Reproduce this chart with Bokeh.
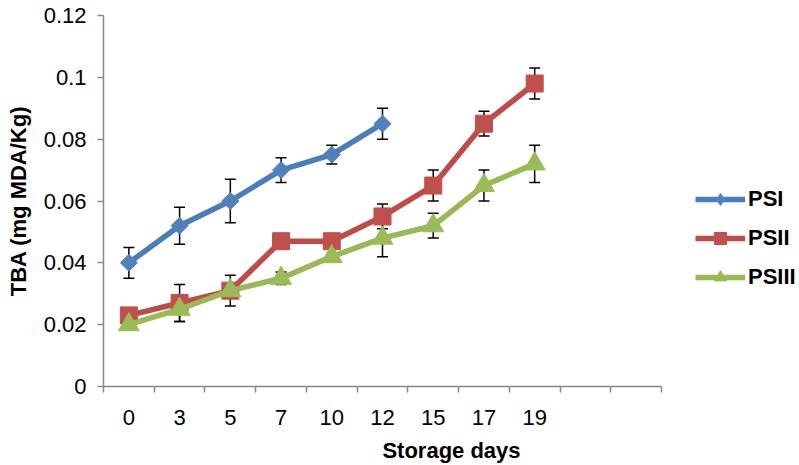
import math
from bokeh.plotting import figure
from bokeh.models import (Range1d, FixedTicker, Whisker, TeeHead, ColumnDataSource,
                          Legend, LegendItem)
from bokeh.embed import file_html
from bokeh.resources import INLINE

# ---- data ----
days = ["0", "3", "5", "7", "10", "12", "15", "17", "19"]
n_slots = 11  # category slots on the axis (two trailing empty)

psi = [0.040, 0.052, 0.060, 0.070, 0.075, 0.085]
psi_err = [0.005, 0.006, 0.007, 0.004, 0.003, 0.005]

psii = [0.023, 0.027, 0.031, 0.047, 0.047, 0.055, 0.065, 0.085, 0.098]
psii_err = [0.001, 0.006, 0.005, 0.001, 0.001, 0.004, 0.005, 0.004, 0.005]

psiii = [0.020, 0.025, 0.031, 0.035, 0.042, 0.048, 0.052, 0.065, 0.072]
psiii_err = [0.001, 0.004, 0.001, 0.002, 0.001, 0.006, 0.004, 0.005, 0.006]

y_ticks = [0, 0.02, 0.04, 0.06, 0.08, 0.1, 0.12]
y_labels = ["0", "0.02", "0.04", "0.06", "0.08", "0.1", "0.12"]

# name, values, errors, line colour, marker colour, marker, size, angle
series = [
    ("PSI", psi, psi_err, "#4A7EBB", "#4F81BD", "square", 12, math.pi / 4),
    ("PSII", psii, psii_err, "#BE4B48", "#C0504D", "square", 17, 0.0),
    ("PSIII", psiii, psiii_err, "#98B954", "#9BBB59", "triangle", 21, 0.0),
]

FONT = "Liberation Sans"
AX = "#868686"

W, H = 799, 465
LEFT, RIGHT, TOP, BOTTOM = 103, 0, 15, 78
AXIS_PX = 558  # pixel length of the drawn category axis
x_end = n_slots * (W - LEFT - RIGHT) / AXIS_PX  # frame extends past axis for legend

p = figure(width=W, height=H, output_backend="svg", toolbar_location=None,
           x_range=Range1d(0, x_end), y_range=Range1d(0, 0.12),
           min_border_left=LEFT, min_border_right=RIGHT, min_border_top=TOP,
           min_border_bottom=BOTTOM)
p.outline_line_color = None
p.xgrid.visible = False
p.ygrid.visible = False

# x axis: labels centred in slots, tick marks between slots
centers = [i + 0.5 for i in range(len(days))]
p.xaxis.bounds = (0, n_slots)
p.xaxis.ticker = FixedTicker(ticks=centers, minor_ticks=list(range(n_slots + 1)))
p.xaxis.major_label_overrides = {c: d for c, d in zip(centers, days)}
p.xaxis.major_tick_line_color = None
p.xaxis.major_tick_out = 6
p.xaxis.major_tick_in = 0
p.xaxis.minor_tick_line_color = AX
p.xaxis.minor_tick_out = 6
p.xaxis.minor_tick_in = 0
p.xaxis.minor_tick_line_width = 1.5
p.xaxis.axis_label = "Storage days"

p.yaxis.ticker = FixedTicker(ticks=y_ticks, minor_ticks=[])
p.yaxis.major_label_overrides = {t: l for t, l in zip(y_ticks, y_labels)}
p.yaxis.major_tick_line_color = AX
p.yaxis.major_tick_out = 6
p.yaxis.major_tick_in = 0
p.yaxis.major_tick_line_width = 1.5
p.yaxis.axis_label = "TBA (mg MDA/Kg)"

for ax in (p.xaxis, p.yaxis):
    ax.axis_line_color = AX
    ax.axis_line_width = 1.5
    ax.major_label_text_font = FONT
    ax.major_label_text_font_size = "22px"
    ax.major_label_text_color = "black"
    ax.axis_label_text_font = FONT
    ax.axis_label_text_font_size = "22px"
    ax.axis_label_text_font_style = "bold"
    ax.axis_label_text_color = "black"
p.xaxis.major_label_standoff = 17
p.xaxis.axis_label_standoff = 10
p.yaxis.major_label_standoff = 11
p.yaxis.axis_label_standoff = 10

items = []
for name, vals, errs, lc, mc, marker, size, ang in series:
    xs = centers[:len(vals)]
    src = ColumnDataSource(dict(x=xs, y=vals,
                                lo=[v - e for v, e in zip(vals, errs)],
                                hi=[v + e for v, e in zip(vals, errs)]))
    w = Whisker(source=src, base="x", lower="lo", upper="hi", dimension="height",
                line_color="black", line_width=1.5, level="underlay",
                upper_head=TeeHead(size=11, line_color="black", line_width=1.5),
                lower_head=TeeHead(size=11, line_color="black", line_width=1.5))
    p.add_layout(w)
    ln = p.line("x", "y", source=src, line_color=lc, line_width=5.5)
    if ang:
        # small diamond hidden under the rotated squares; used for the legend
        # swatch because legends ignore a marker's angle
        leg = p.scatter("x", "y", source=src, marker="diamond", size=9,
                        fill_color=mc, line_color=mc)
    sc = p.scatter("x", "y", source=src, marker=marker, size=size, angle=ang,
                   fill_color=mc, line_color=mc)
    if not ang:
        leg = sc
    items.append(LegendItem(label=name, renderers=[ln, leg]))

legend = Legend(items=items, location=(592, 94), padding=0, margin=0,
                glyph_width=50, glyph_height=30, label_height=30, spacing=9,
                label_standoff=3, label_text_font=FONT, label_text_font_size="22px",
                label_text_font_style="bold", label_text_color="black",
                background_fill_alpha=0, border_line_color=None)
p.add_layout(legend, "center")

open("out.html", "w").write(file_html(p, INLINE))
